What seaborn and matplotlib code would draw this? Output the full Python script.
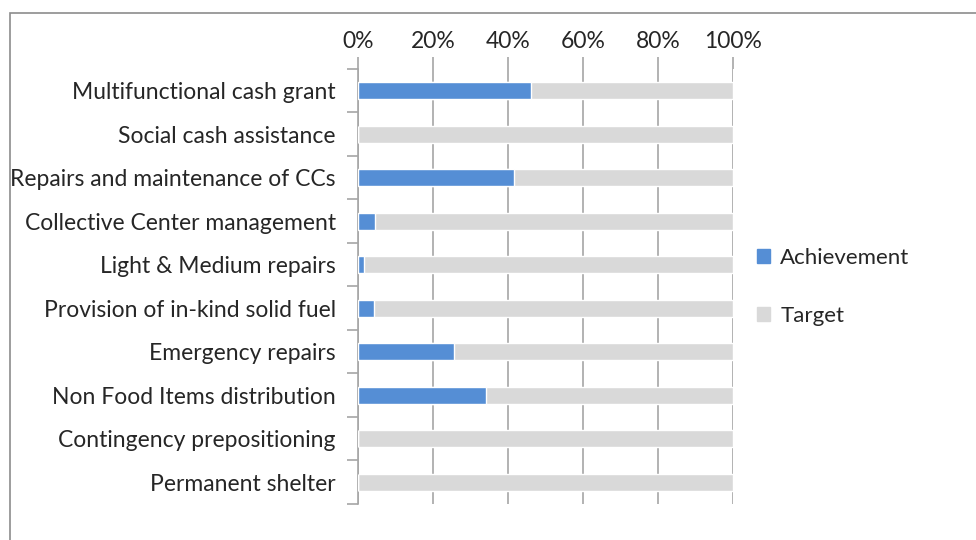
import matplotlib
matplotlib.use("Agg")
from matplotlib import pyplot as plt
from matplotlib.patches import Rectangle, Patch
from matplotlib.ticker import PercentFormatter
import pandas as pd
import seaborn as sns

categories = [
    "Multifunctional cash grant",
    "Social cash assistance",
    "Repairs and maintenance of CCs",
    "Collective Center management",
    "Light & Medium repairs",
    "Provision of in-kind solid fuel",
    "Emergency repairs",
    "Non Food Items distribution",
    "Contingency prepositioning",
    "Permanent shelter",
]
achievement = [46.1, 0, 41.7, 4.5, 1.7, 4.2, 25.7, 34.2, 0, 0]
target = [100] * len(categories)

df = pd.DataFrame({"Activity": categories, "Achievement": achievement, "Target": target})

blue = "#558ED5"
grey = "#D9D9D9"

sns.set_style("white")
plt.rcParams["font.family"] = ["Lato", "DejaVu Sans"]

fig = plt.figure(figsize=(9.76, 5.4), dpi=100)
ax = fig.add_axes([358 / 976, 1 - 504 / 540, 375 / 976, 435 / 540])

# stacked: grey target behind, blue achievement in front
sns.barplot(data=df, y="Activity", x="Target", color=grey, width=0.4,
            saturation=1, ax=ax, legend=False, zorder=2)
sns.barplot(data=df, y="Activity", x="Achievement", color=blue, width=0.4,
            saturation=1, ax=ax, legend=False, zorder=3)

ax.set_xlim(0, 100)
ax.set_ylim(len(categories) - 0.5, -0.5)
ax.xaxis.set_major_formatter(PercentFormatter(decimals=0))
ax.set_xticks(range(0, 101, 20))
ax.xaxis.tick_top()
ax.grid(axis="x", color="#A6A6A6", linewidth=1.2, zorder=0)
ax.set_axisbelow(True)
ax.set_xlabel("")
ax.set_ylabel("")

for s in ["top", "right", "bottom"]:
    ax.spines[s].set_visible(False)
ax.spines["left"].set_color("#A6A6A6")
ax.spines["left"].set_linewidth(1.2)

ax.tick_params(axis="x", top=True, length=9, width=1.2, color="#A6A6A6",
               labelsize=16.5, labelcolor="#262626", pad=3)
ax.set_yticks(range(len(categories)))
ax.set_yticks([i - 0.5 for i in range(len(categories) + 1)], minor=True)
ax.tick_params(axis="y", which="major", length=0, labelsize=16.5,
               labelcolor="#262626", pad=16)
ax.tick_params(axis="y", which="minor", left=True, length=8, width=1.2,
               color="#A6A6A6")

handles = [Patch(color=blue), Patch(color=grey)]
fig.legend(handles, ["Achievement", "Target"],
           loc="center left", bbox_to_anchor=(737 / 976, 1 - 287 / 540),
           frameon=False, fontsize=16, labelspacing=1.7,
           handlelength=0.6, handleheight=0.6, handletextpad=0.45,
           labelcolor="#262626")

fig.patches.append(Rectangle((10 / 976, -0.1), 1.2, 1 - 13 / 540 + 0.1,
                             transform=fig.transFigure, fill=False,
                             edgecolor="#8C8C8C", linewidth=1.2))

fig.savefig("out.png", dpi=100)
